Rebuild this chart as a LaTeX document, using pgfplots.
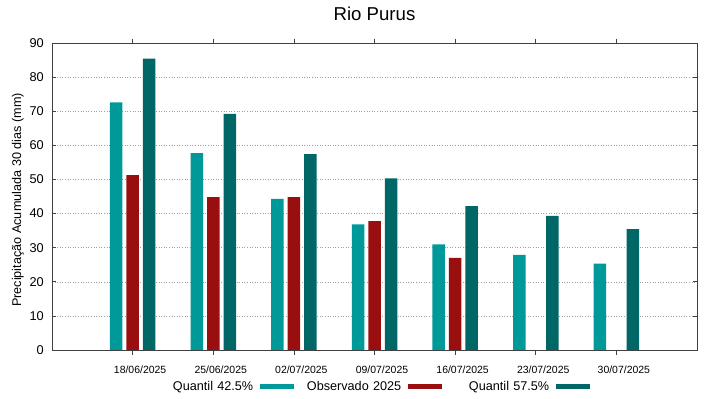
\documentclass[border=0pt]{standalone}
\usepackage{fontspec}
\setmainfont{Liberation Sans}
\usepackage{pgfplots}
\pgfplotsset{compat=1.18}
\definecolor{qlow}{RGB}{0,153,153}
\definecolor{obs}{RGB}{153,15,15}
\definecolor{qhigh}{RGB}{0,102,102}
\begin{document}
\begin{tikzpicture}
\useasboundingbox (0,0) rectangle (719bp,399bp);
\node[anchor=base, font=\fontsize{18.7}{22}\selectfont, inner sep=0pt] at (374.5bp,378.3bp) {Rio Purus};
\begin{axis}[
  at={(52bp,49bp)}, anchor=south west,
  width=645bp, height=307bp, scale only axis,
  xmin=0, xmax=8, ymin=0, ymax=90,
  xtick={1,2,3,4,5,6,7},
  xticklabels={18/06/2025,25/06/2025,02/07/2025,09/07/2025,16/07/2025,23/07/2025,30/07/2025},
  ytick={0,10,20,30,40,50,60,70,80,90},
  /pgf/number format/assume math mode=true,
  tick align=inside,
  major tick length=4.5bp,
  tick style={black!75, line width=0.7pt},
  axis line style={black!75, line width=0.8pt},
  ymajorgrids,
  grid style={dash pattern=on 1bp off 1.6bp, gray!75, line width=0.55pt},
  xticklabel style={font=\fontsize{10.5}{12}\selectfont, anchor=base, inner sep=0pt, yshift=-19.3bp, xshift=7.5bp},
  yticklabel style={font=\fontsize{12.8}{15}\selectfont, anchor=east, inner sep=0pt, xshift=-8bp},
  ylabel={Precipitação Acumulada 30 dias (mm)},
  ylabel style={font=\fontsize{12.7}{15}\selectfont, at={(axis description cs:-0.0527,0.4886)}, anchor=center},
  ybar, bar width=12.5bp,
  legend columns=3,
  legend plot pos=right,
  legend cell align=right,
  legend style={at={(axis description cs:0.155,-0.1205)}, anchor=west, draw=none, fill=none,
    inner sep=0pt, column sep=6.5bp,
    font=\fontsize{12.7}{15}\selectfont,
    nodes={text width=101bp, align=right, inner sep=0pt}},
  legend image code/.code={\fill[#1,draw=none] (0bp,-2.5bp) rectangle (34bp,2.5bp);},
]
\addplot[fill=qlow, draw=none, bar shift=-16.5bp] coordinates {
  (1,72.6) (2,57.7) (3,44.3) (4,36.8) (5,31.0) (6,27.9) (7,25.3)};
\addlegendentry{Quantil 42.5\%}
\addplot[fill=obs, draw=none, bar shift=0bp] coordinates {
  (1,51.3) (2,44.8) (3,44.8) (4,37.8) (5,27.0)};
\addlegendentry{Observado 2025}
\addplot[fill=qhigh, draw=none, bar shift=16.5bp] coordinates {
  (1,85.4) (2,69.2) (3,57.4) (4,50.3) (5,42.2) (6,39.3) (7,35.4)};
\addlegendentry{Quantil 57.5\%}
\end{axis}
\end{tikzpicture}
\end{document}
